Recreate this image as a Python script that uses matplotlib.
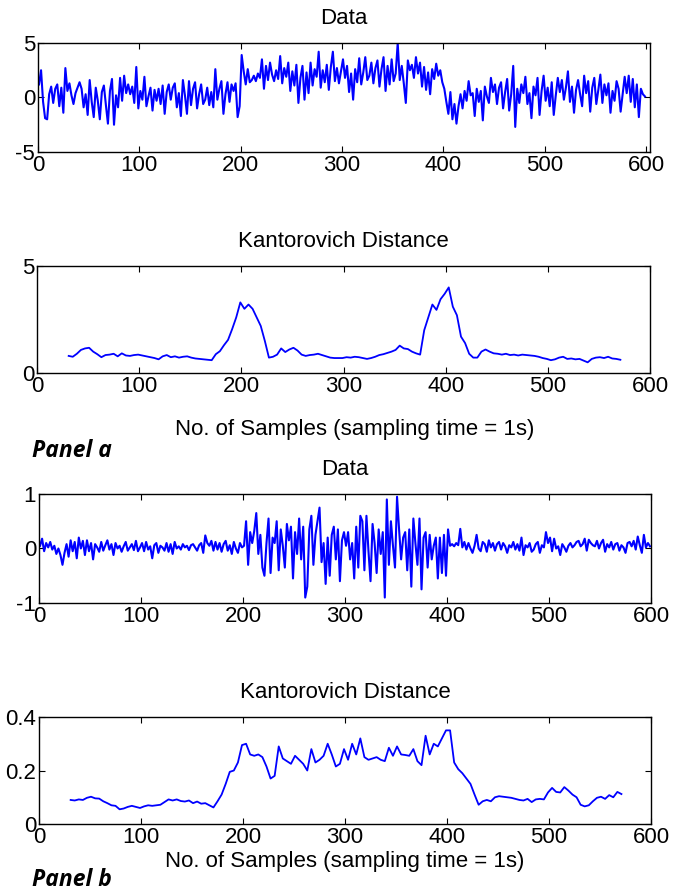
import numpy as np
import matplotlib
matplotlib.use("Agg")
import matplotlib.pyplot as plt

plt.rcParams["font.family"] = ["Liberation Sans", "DejaVu Sans"]

# sample index for the raw series (every second sample) and the distance curves
data_x = np.arange(1, 600, 2)
dist_x = np.arange(31, 572, 4)

# panel a: mean shift between samples 200 and 400
data_a = [
    1.2, 2.5, -0.4, -1.9, -2.0, 0.3, 1.0, -0.5, 0.8, 1.2,
    -0.8, 0.9, -1.4, 2.7, 0.6, 1.3, 0.2, -0.6, 0.4, 0.9,
    1.4, 0.8, -0.9, 0.3, -1.6, 1.6, -0.4, -1.8, 0.9, -0.3,
    -2.0, 0.5, 1.1, -0.7, -2.4, 0.6, 1.7, -2.5, 0.2, -0.9,
    1.8, -0.3, 2.0, 0.4, 1.2, 0.3, 1.0, -0.5, 2.8, -1.0,
    0.6, -0.2, 1.9, -0.8, 0.1, 0.9, -1.2, 0.7, -0.3, 0.8,
    -0.6, 1.1, -1.5, 0.5, 1.2, -0.2, 0.9, 1.3, -0.9, 0.4,
    -1.7, 1.6, 0.2, -1.5, 1.5, -0.7, 0.8, 1.4, -1.0, 0.3,
    1.2, -0.6, -0.2, 0.9, -0.7, 0.5, -0.9, 2.6, -0.2, 0.8,
    1.5, -1.5, 0.3, 1.4, -0.4, 1.2, 0.6, 1.3, -1.8, -0.8,
    3.9, 2.4, 1.2, 2.6, 1.4, 1.6, 2.0, 1.5, 2.2, 1.8,
    3.5, 0.8, 2.9, 1.6, 3.2, 2.1, 1.5, 2.5, 1.7, 3.8,
    1.3, 2.7, 1.9, 3.2, 0.6, 2.4, 1.1, 3.0, -0.5, 1.8,
    2.9, -0.2, 2.3, 0.4, 3.2, 1.1, 2.6, 1.9, 4.2, 0.9,
    2.5, 1.4, 3.0, 0.7, 2.8, 4.2, 1.5, 2.7, 1.3, 2.4,
    3.5, 1.8, 2.9, 0.5, 2.2, -0.2, 2.6, 1.4, 3.6, 1.2,
    2.3, 3.7, 1.6, 2.0, 3.2, 1.3, 2.7, 3.4, 1.0, 2.6,
    3.7, 0.6, 2.9, 1.2, 3.5, 1.5, 2.2, 5.0, 1.6, 2.9,
    1.3, -0.5, 3.4, 2.5, 3.0, 1.8, 3.7, 2.2, 3.2, 1.0,
    2.8, 0.7, 2.3, 0.3, 2.6, 1.7, 3.1, 2.0, 2.5, 1.4,
    0.8, -0.4, -1.5, 0.5, -2.0, -0.6, -2.4, -0.8, 0.3, -1.0,
    0.6, -0.3, 1.5, 0.2, 0.4, -1.7, 0.8, -0.4, 0.6, -2.1,
    1.0, 0.1, -0.5, 1.8, 0.5, 1.2, -0.6, 0.9, 1.4, -1.0,
    0.5, 1.7, -1.2, 0.3, 2.9, -2.7, 0.8, -0.5, 1.2, 0.4,
    1.9, -0.6, 0.4, -1.9, 1.0, 0.2, 1.8, -1.6, 0.6, 2.0,
    -0.3, 0.9, -0.8, 1.4, -1.6, 0.2, 1.8, 0.5, 1.6, -0.2,
    0.9, 2.4, -0.4, 1.0, -1.4, 0.7, 1.6, 0.3, -0.8, 2.0,
    0.4, 1.5, -1.3, 0.9, 1.8, -0.6, 0.7, 2.1, -0.5, 1.2,
    0.2, 1.3, -1.4, 0.6, -0.3, 1.5, 0.8, -1.3, 0.3, 1.9,
    0.4, 2.0, -0.4, 1.7, -0.9, 1.2, -1.8, 0.8, 0.3, 0.1,
]

dist_a = [
    0.80, 0.76, 0.90, 1.08, 1.15, 1.18, 1.00, 0.88, 0.74, 0.84,
    0.86, 0.90, 0.78, 0.92, 0.82, 0.80, 0.84, 0.86, 0.82, 0.78,
    0.74, 0.70, 0.64, 0.78, 0.84, 0.74, 0.78, 0.72, 0.76, 0.78,
    0.72, 0.68, 0.66, 0.64, 0.62, 0.60, 0.88, 1.02, 1.30, 1.55,
    2.05, 2.60, 3.30, 3.00, 3.20, 3.00, 2.60, 2.20, 1.50, 0.72,
    0.76, 0.86, 1.15, 0.98, 1.10, 1.18, 1.05, 0.86, 0.80, 0.84,
    0.86, 0.90, 0.84, 0.78, 0.72, 0.70, 0.70, 0.70, 0.74, 0.72,
    0.76, 0.74, 0.70, 0.66, 0.70, 0.76, 0.84, 0.88, 0.94, 1.00,
    1.08, 1.28, 1.15, 1.12, 1.00, 0.92, 0.86, 2.00, 2.60, 3.20,
    2.95, 3.45, 3.70, 4.00, 3.10, 2.70, 1.70, 1.40, 0.90, 0.72,
    0.72, 1.00, 1.10, 1.00, 0.92, 0.90, 0.86, 0.90, 0.84, 0.86,
    0.82, 0.86, 0.84, 0.82, 0.80, 0.76, 0.70, 0.66, 0.60, 0.64,
    0.72, 0.76, 0.66, 0.68, 0.64, 0.66, 0.58, 0.50, 0.66, 0.72,
    0.74, 0.70, 0.76, 0.68, 0.66, 0.62,
]

# panel b: variance change between samples 200 and 400
data_b = [
    0.05, 0.18, -0.05, 0.10, 0.02, 0.12, -0.02, 0.05, -0.10, 0.00,
    -0.12, -0.30, -0.08, 0.08, -0.15, 0.15, -0.05, 0.12, -0.18, 0.20,
    0.00, 0.14, -0.12, 0.15, -0.05, 0.10, -0.20, 0.08, 0.02, -0.06,
    0.12, -0.04, 0.06, 0.15, -0.02, 0.08, -0.12, 0.10, 0.00, 0.05,
    -0.06, 0.04, 0.12, -0.04, 0.02, 0.08, -0.03, 0.14, -0.05, 0.02,
    0.10, -0.05, 0.12, -0.02, 0.04, -0.18, 0.06, 0.10, -0.08, 0.05,
    0.02, -0.04, 0.10, -0.06, 0.08, -0.10, 0.12, 0.00, 0.04, -0.02,
    0.08, 0.02, 0.05, -0.03, 0.06, 0.08, 0.02, -0.04, 0.06, 0.10,
    -0.08, 0.24, 0.10, 0.05, 0.14, -0.04, 0.12, -0.02, 0.10, -0.06,
    0.08, 0.14, -0.04, 0.06, -0.10, 0.12, 0.00, -0.08, 0.10, 0.02,
    0.05, 0.50, -0.30, 0.30, 0.10, 0.32, 0.65, -0.10, 0.25, -0.35,
    -0.50, 0.10, 0.55, -0.45, 0.20, 0.10, 0.50, -0.40, 0.35, 0.05,
    -0.35, 0.45, 0.15, 0.40, -0.55, 0.30, -0.10, 0.55, -0.20, 0.40,
    -0.90, -0.70, 0.35, 0.60, -0.30, 0.25, 0.50, 0.75, -0.25, 0.10,
    -0.65, 0.20, -0.50, 0.25, 0.40, -0.20, 0.35, -0.60, 0.15, 0.30,
    0.05, 0.30, -0.20, 0.10, -0.55, 0.40, -0.35, 0.60, 0.50, -0.40,
    0.60, -0.05, -0.60, 0.45, 0.10, -0.45, 0.35, -0.10, 0.30, -0.90,
    0.90, -0.30, 0.50, 0.05, -0.35, 0.95, 0.35, -0.20, 0.20, 0.30,
    -0.40, 0.35, -0.70, 0.55, 0.10, -0.30, 0.55, -0.75, 0.20, 0.30,
    -0.35, 0.25, -0.20, 0.05, 0.20, -0.55, 0.20, -0.45, 0.25, -0.50,
    0.35, 0.05, 0.08, 0.04, 0.10, 0.06, 0.36, 0.02, 0.12, -0.02,
    0.10, 0.00, -0.08, 0.05, 0.25, 0.00, -0.05, 0.12, 0.08, -0.06,
    0.15, 0.02, 0.10, -0.04, 0.08, 0.12, -0.02, 0.10, 0.04, -0.08,
    0.06, 0.02, 0.12, -0.02, 0.08, -0.04, 0.20, -0.12, 0.06, 0.02,
    0.10, -0.06, -0.02, 0.08, 0.12, -0.08, 0.06, 0.02, 0.30, 0.10,
    0.20, -0.05, 0.18, 0.00, 0.04, -0.12, 0.08, 0.02, -0.06, 0.05,
    0.10, 0.02, 0.06, 0.12, 0.14, 0.04, 0.08, 0.18, -0.04, 0.16,
    0.10, 0.06, 0.04, 0.14, 0.00, 0.10, 0.16, -0.06, 0.08, 0.02,
    0.12, -0.02, 0.08, 0.10, -0.04, 0.06, 0.02, -0.08, 0.10, 0.12,
    0.04, 0.14, -0.02, 0.22, 0.06, -0.08, 0.25, 0.02, 0.10, 0.04,
]

dist_b = [
    0.090, 0.088, 0.092, 0.090, 0.098, 0.102, 0.096, 0.095, 0.085, 0.078,
    0.070, 0.068, 0.055, 0.058, 0.064, 0.068, 0.064, 0.060, 0.066, 0.070,
    0.068, 0.070, 0.072, 0.082, 0.092, 0.088, 0.092, 0.086, 0.084, 0.088,
    0.078, 0.084, 0.076, 0.078, 0.070, 0.062, 0.085, 0.110, 0.150, 0.195,
    0.200, 0.230, 0.295, 0.300, 0.260, 0.255, 0.260, 0.250, 0.215, 0.170,
    0.180, 0.290, 0.245, 0.235, 0.225, 0.255, 0.240, 0.225, 0.200, 0.280,
    0.230, 0.240, 0.255, 0.300, 0.260, 0.215, 0.225, 0.280, 0.240, 0.300,
    0.260, 0.320, 0.250, 0.240, 0.245, 0.250, 0.240, 0.235, 0.285, 0.255,
    0.290, 0.260, 0.258, 0.255, 0.280, 0.235, 0.220, 0.330, 0.260, 0.300,
    0.290, 0.320, 0.350, 0.350, 0.230, 0.205, 0.190, 0.170, 0.150, 0.110,
    0.072, 0.085, 0.090, 0.085, 0.100, 0.104, 0.102, 0.100, 0.098, 0.094,
    0.090, 0.088, 0.094, 0.082, 0.092, 0.094, 0.092, 0.118, 0.135, 0.120,
    0.118, 0.138, 0.125, 0.110, 0.100, 0.072, 0.066, 0.070, 0.085, 0.098,
    0.102, 0.094, 0.108, 0.100, 0.120, 0.112,
]

x_ticks = [0, 100, 200, 300, 400, 500, 600]
xlabel = "No. of Samples (sampling time = 1s)"
BLUE = "#0000ff"
FS = 16


def style_axes(ax, xlim, ylim, yticks, yticklabels):
    ax.set_xlim(*xlim)
    ax.set_ylim(*ylim)
    ax.set_xticks(x_ticks)
    ax.set_yticks(yticks)
    ax.set_yticklabels(yticklabels)
    ax.tick_params(direction="in", top=True, right=True, length=4,
                   labelsize=FS, pad=2)
    for sp in ax.spines.values():
        sp.set_linewidth(1.0)


fig = plt.figure(figsize=(6.74, 8.92), dpi=100)

ax1 = fig.add_axes([0.0564, 0.8296, 0.908, 0.1222])
ax1.plot(data_x, data_a, color=BLUE, lw=1.5)
style_axes(ax1, (0, 604), (-5, 5), [-5, 0, 5], ["-5", "0", "5"])
ax1.set_title("Data", fontsize=FS, pad=14)

ax2 = fig.add_axes([0.0549, 0.5818, 0.9095, 0.120])
ax2.plot(dist_x, dist_a, color=BLUE, lw=1.3)
style_axes(ax2, (0, 600), (0, 5), [0, 5], ["0", "5"])
ax2.set_title("Kantorovich Distance", fontsize=FS, pad=14)
ax2.set_xlabel(xlabel, fontsize=FS, labelpad=14)
ax2.xaxis.set_label_coords(0.519, -0.43)

ax3 = fig.add_axes([0.0579, 0.324, 0.908, 0.1222])
ax3.plot(data_x, data_b, color=BLUE, lw=1.5)
style_axes(ax3, (0, 600), (-1, 1), [-1, 0, 1], ["-1", "0", "1"])
ax3.set_title("Data", fontsize=FS, pad=14)

ax4 = fig.add_axes([0.0579, 0.0762, 0.908, 0.120])
ax4.plot(dist_x, dist_b, color=BLUE, lw=1.3)
style_axes(ax4, (0, 600), (0, 0.4), [0, 0.2, 0.4], ["0", "0.2", "0.4"])
ax4.set_title("Kantorovich Distance", fontsize=FS, pad=14)
ax4.set_xlabel(xlabel, fontsize=FS, labelpad=2)

panel_font = dict(fontsize=16.5, fontweight="bold", fontstyle="italic",
                  family=["Open Sans", "DejaVu Sans"], va="baseline")
fig.text(0.048, 0.488, "Panel a", **panel_font)
fig.text(0.048, 0.0067, "Panel b", **panel_font)

fig.savefig("out.png", dpi=100)
